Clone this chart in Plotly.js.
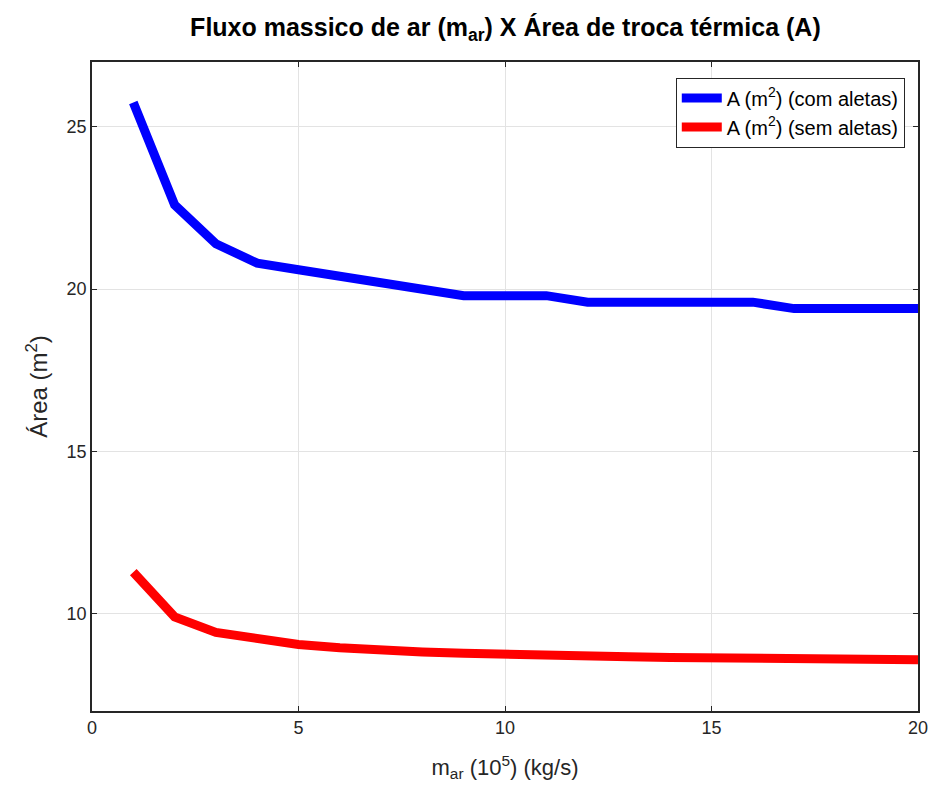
<!DOCTYPE html>
<html>
<head>
<meta charset="utf-8">
<script src="https://cdn.plot.ly/plotly-3.0.1.min.js"></script>
<style>html,body{margin:0;padding:0;background:#fff;}#chart{width:936px;height:793px;}</style>
</head>
<body>
<div id="chart"></div>
<script>
const massFlow = [1,2,3,4,5,6,7,8,9,10,11,12,13,14,15,16,17,18,19,20];
const areaComAletas = [25.75,22.6,21.4,20.8,20.6,20.4,20.2,20.0,19.8,19.8,19.8,19.6,19.6,19.6,19.6,19.6,19.4,19.4,19.4,19.4];
const areaSemAletas = [11.28,9.9,9.42,9.2,9.05,8.95,8.87,8.82,8.78,8.74,8.71,8.68,8.67,8.65,8.64,8.63,8.6,8.59,8.58,8.58];
const seriesNames = ["A (m<sup>2</sup>) (com aletas)", "A (m<sup>2</sup>) (sem aletas)"];
const xTicks = [0,5,10,15,20];
const yTicks = [10,15,20,25];

const fontFam = "'Liberation Sans', Arial, sans-serif";
const traces = [
  {x: massFlow, y: areaComAletas, name: seriesNames[0], mode: 'lines', line: {color: '#0000ff', width: 9}},
  {x: massFlow, y: areaSemAletas, name: seriesNames[1], mode: 'lines', line: {color: '#ff0000', width: 9}}
];
const axisCommon = {
  showline: true, linecolor: '#262626', linewidth: 1.5, mirror: 'ticks',
  ticks: 'inside', ticklen: 5, tickcolor: '#262626',
  showgrid: true, gridcolor: '#e3e3e3', gridwidth: 1, zeroline: false,
  tickfont: {family: fontFam, size: 18, color: '#262626'}
};
const layout = {
  width: 936, height: 793,
  margin: {l: 92, r: 18, t: 62, b: 82},
  paper_bgcolor: '#ffffff', plot_bgcolor: '#ffffff',
  title: {text: 'Fluxo massico de ar (m<sub>ar</sub>) X Área de troca térmica (A)',
          font: {family: fontFam, size: 25, color: '#000', weight: 'bold'},
          x: 0.54, xanchor: 'center', y: 0.966, yanchor: 'middle'},
  xaxis: Object.assign({}, axisCommon, {range: [0,20], tickvals: xTicks,
          title: {text: 'm<sub>ar</sub> (10<sup>5</sup>) (kg/s)', font: {family: fontFam, size: 22, color: '#262626'}, standoff: 22}}),
  yaxis: Object.assign({}, axisCommon, {range: [7,27], tickvals: yTicks,
          title: {text: 'Área (m<sup>2</sup>)', font: {family: fontFam, size: 24, color: '#262626'}, standoff: 12}}),
  showlegend: true,
  legend: {x: 0.984, y: 0.976, xanchor: 'right', yanchor: 'top',
           bgcolor: '#ffffff', bordercolor: '#262626', borderwidth: 1,
           font: {family: fontFam, size: 20, color: '#000'}, tracegroupgap: 0, itemwidth: 40}
};
Plotly.newPlot('chart', traces, layout, {displayModeBar: false});
</script>
</body>
</html>
